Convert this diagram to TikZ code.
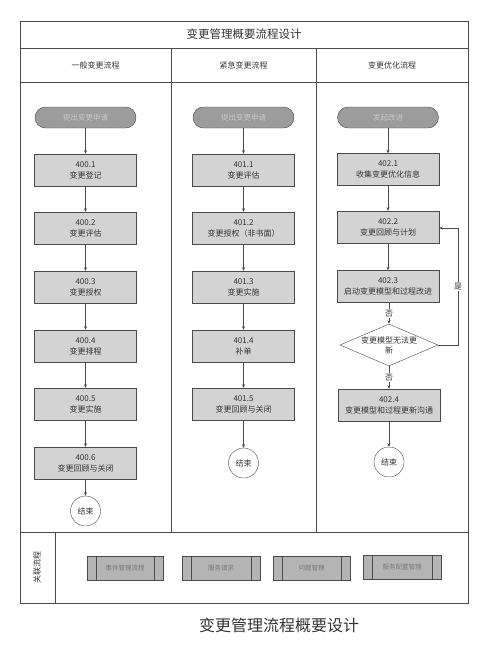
\documentclass[tikz,border=0pt]{standalone}
\usepackage{fontspec}
\setmainfont{Noto Sans CJK SC}
\usetikzlibrary{arrows.meta,shapes.geometric,calc}
\definecolor{lineC}{HTML}{4A4A4A}
\definecolor{boxF}{HTML}{D3D3D3}
\definecolor{pillF}{HTML}{9C9C9C}
\definecolor{pillT}{HTML}{C8C8C8}
\definecolor{relF}{HTML}{B4B4B4}
\definecolor{relT}{HTML}{7A7A7A}
\definecolor{txtC}{HTML}{333333}
\tikzset{
  frame/.style={draw=lineC, line width=0.9pt},
  pill/.style={draw=lineC, fill=pillF, text=pillT, rounded corners=10.5pt, minimum width=101pt, minimum height=21pt, inner sep=0pt, font=\fontsize{7.5}{9}\selectfont},
  stepbox/.style={draw=lineC, fill=boxF, text=txtC, minimum width=102pt, minimum height=32pt, inner sep=0pt, align=center, font=\fontsize{8}{11}\selectfont},
  endc/.style={draw=lineC, fill=white, circle, minimum size=30pt, inner sep=0pt, text=txtC, font=\fontsize{8}{10}\selectfont},
  dec/.style={draw=lineC, fill=white, diamond, aspect=2.33, minimum width=98pt, minimum height=42pt, inner sep=0pt, align=center, text=txtC, font=\fontsize{8}{10}\selectfont},
  relbox/.style={draw=lineC, fill=relF, text=relT, minimum height=24pt, inner sep=0pt, font=\fontsize{6.5}{8}\selectfont},
  flow/.style={draw=lineC, line width=0.6pt, -{Stealth[length=3.5pt,width=3pt]}},
  lbl/.style={fill=white, text=txtC, inner sep=1pt, font=\fontsize{8}{10}\selectfont},
  hdr/.style={text=txtC, font=\fontsize{8}{10}\selectfont}
}
\begin{document}
\begin{tikzpicture}[x=1pt,y=-1pt]
\useasboundingbox (0,0) rectangle (496,656);
% frame
\draw[frame] (20,21) rectangle (468,603);
\draw[frame] (20,48) -- (468,48);
\draw[frame] (20,82) -- (468,82);
\draw[frame] (20,532) -- (468,532);
\draw[frame] (171,48) -- (171,532);
\draw[frame] (316,48) -- (316,532);
\draw[frame] (55,532) -- (55,603);
\node[text=txtC, font=\fontsize{11.5}{13}\selectfont] (title) at (244,34.5) {变更管理概要流程设计};
\node[hdr] (h1) at (95.5,65) {一般变更流程};
\node[hdr] (h2) at (243.5,65) {紧急变更流程};
\node[hdr] (h3) at (392,65) {变更优化流程};
% column 1
\node[pill] (s1) at (85.5,117.5) {提出变更申请};
\node[stepbox] (a1) at (85.5,170) {400.1\\变更登记};
\node[stepbox] (a2) at (85.5,228) {400.2\\变更评估};
\node[stepbox] (a3) at (85.5,287) {400.3\\变更授权};
\node[stepbox] (a4) at (85.5,346) {400.4\\变更排程};
\node[stepbox] (a5) at (85.5,404) {400.5\\变更实施};
\node[stepbox] (a6) at (85.5,463) {400.6\\变更回顾与关闭};
\node[endc] (e1) at (85.5,511) {结束};
\draw[flow] (s1) -- (a1);
\draw[flow] (a1) -- (a2);
\draw[flow] (a2) -- (a3);
\draw[flow] (a3) -- (a4);
\draw[flow] (a4) -- (a5);
\draw[flow] (a5) -- (a6);
\draw[flow] (a6) -- (e1);
% column 2
\node[pill] (s2) at (243.5,117.5) {提出变更申请};
\node[stepbox] (b1) at (243.5,170) {401.1\\变更评估};
\node[stepbox] (b2) at (243.5,228) {401.2\\变更授权（非书面）};
\node[stepbox] (b3) at (243.5,287) {401.3\\变更实施};
\node[stepbox] (b4) at (243.5,346) {401.4\\补单};
\node[stepbox] (b5) at (243.5,404) {401.5\\变更回顾与关闭};
\node[endc] (e2) at (243.5,463) {结束};
\draw[flow] (s2) -- (b1);
\draw[flow] (b1) -- (b2);
\draw[flow] (b2) -- (b3);
\draw[flow] (b3) -- (b4);
\draw[flow] (b4) -- (b5);
\draw[flow] (b5) -- (e2);
% column 3
\node[pill] (s3) at (388,117.5) {发起改进};
\node[stepbox] (c1) at (388,169.5) {402.1\\收集变更优化信息};
\node[stepbox] (c2) at (388,227) {402.2\\变更回顾与计划};
\node[stepbox] (c3) at (388,286.5) {402.3\\启动变更模型和过程改进};
\node[dec] (d1) at (389,345) {变更模型无法更\\新};
\node[stepbox] (c4) at (389,405) {402.4\\变更模型和过程更新沟通};
\node[endc] (e3) at (389,462) {结束};
\coordinate (lp1) at (458,345);
\coordinate (lp2) at (458,228);
\draw[flow] (s3) -- (c1);
\draw[flow] (c1) -- (c2);
\draw[flow] (c2) -- (c3);
\draw[flow] (c3.south -| d1.north) -- node[lbl] {否} (d1.north);
\draw[flow] (d1.south) -- node[lbl] {否} (c4.north);
\draw[flow] (c4) -- (e3);
\draw[flow] (d1.east) -- (lp1) -- node[lbl, pos=0.5] {是} (lp2) -- (c2.east |- lp2);
% related processes
\node[rotate=90, text=txtC, font=\fontsize{8}{10}\selectfont] (rl) at (37,567.5) {关联流程};
\node[relbox, minimum width=76pt] (r1) at (125,568) {事件管理流程};
\node[relbox, minimum width=78pt] (r2) at (221,568) {服务请求};
\node[relbox, minimum width=77pt] (r3) at (311.5,568) {问题管理};
\node[relbox, minimum width=78pt] (r4) at (402,567) {服务配置管理};
\foreach \r in {r1,r2,r3,r4}{
  \draw[draw=lineC] ($(\r.north west)+(9.5,0)$) -- ($(\r.south west)+(9.5,0)$);
  \draw[draw=lineC] ($(\r.north east)+(-9.5,0)$) -- ($(\r.south east)+(-9.5,0)$);
}
\node[text=black!80, font=\fontsize{16}{18}\selectfont] (cap) at (279,625) {变更管理流程概要设计};
\end{tikzpicture}
\end{document}
